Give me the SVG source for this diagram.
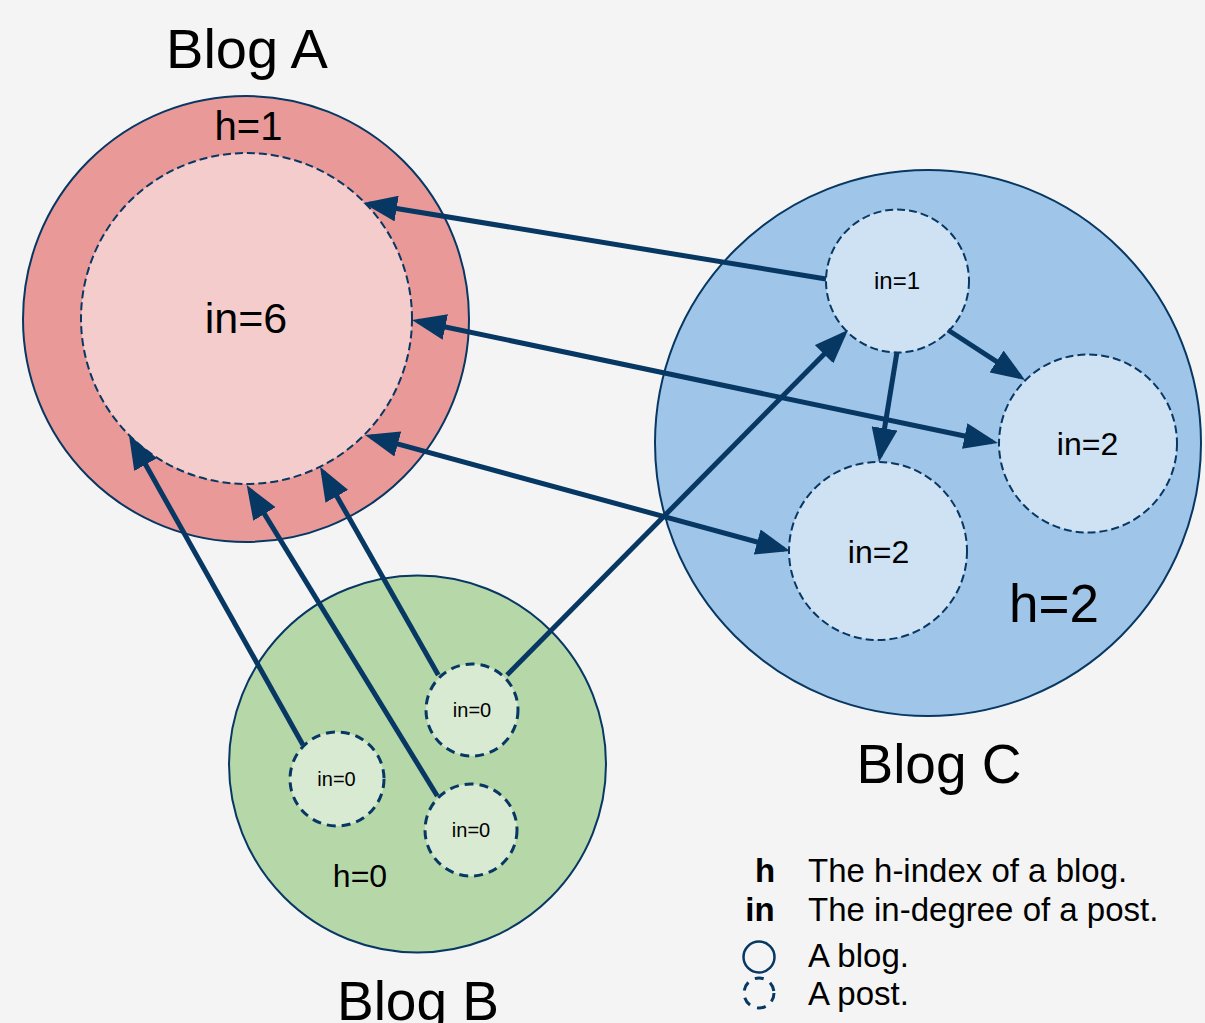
<svg xmlns="http://www.w3.org/2000/svg" width="1205" height="1023" viewBox="0 0 1205 1023">
<defs>
<style>
text{font-family:"Liberation Sans",Arial,sans-serif;fill:#000;text-anchor:middle}
.blog{stroke:#073763;stroke-width:2}
.post{stroke:#073763;stroke-width:2;stroke-dasharray:8 4}
.postb{stroke:#073763;stroke-width:3;stroke-dasharray:9 6}
.edge{fill:none;stroke:#073763;stroke-width:5;marker-end:url(#ah)}
.bi{marker-start:url(#ah)}
.leg{text-anchor:start}
</style>
<marker id="ah" markerUnits="userSpaceOnUse" markerWidth="34" markerHeight="26" refX="28" refY="13" orient="auto-start-reverse" viewBox="0 0 34 26">
<path d="M0,0 L34,13 L0,26 z" fill="#073763"/>
</marker>
</defs>
<rect width="1205" height="1023" fill="#f4f4f4"/>

<g id="blogA">
<circle class="blog" cx="246" cy="319" r="223" fill="#ea9999"/>
<circle class="post" cx="246.5" cy="318.5" r="165.5" fill="#f4cccc"/>
<text x="247" y="68" font-size="56">Blog A</text>
<text x="248.5" y="140" font-size="40">h=1</text>
<text x="246" y="333" font-size="43">in=6</text>
</g>

<g id="blogC">
<circle class="blog" cx="928" cy="443" r="273" fill="#9fc5e8"/>
<circle class="post" cx="897.5" cy="281" r="71.5" fill="#cfe2f3"/>
<circle class="post" cx="1088" cy="443.5" r="89" fill="#cfe2f3"/>
<circle class="post" cx="878" cy="551" r="89" fill="#cfe2f3"/>
<text x="897" y="289" font-size="24">in=1</text>
<text x="1087.5" y="455" font-size="32">in=2</text>
<text x="878.5" y="563" font-size="32">in=2</text>
<text x="1054" y="622" font-size="53">h=2</text>
<text x="939" y="783" font-size="55">Blog C</text>
</g>

<g id="blogB">
<circle class="blog" cx="417.5" cy="764" r="188.5" fill="#b6d7a8"/>
<circle class="postb" cx="337" cy="779" r="47" fill="#d9ead3"/>
<circle class="postb" cx="472" cy="710" r="46" fill="#d9ead3"/>
<circle class="postb" cx="471" cy="830" r="46" fill="#d9ead3"/>
<text x="336.5" y="786" font-size="20">in=0</text>
<text x="472" y="717" font-size="20">in=0</text>
<text x="471" y="837" font-size="20">in=0</text>
<text x="360" y="887" font-size="32">h=0</text>
<text x="418" y="1020" font-size="55">Blog B</text>
</g>

<g id="connectors">
<path class="edge" d="M826,279 L369,204"/>
<path class="edge bi" d="M417.9,321.2 L992.1,441.8"/>
<path class="edge bi" d="M370.8,436.6 L784.2,549.4"/>
<path class="edge" d="M897,352 L880,456.1"/>
<path class="edge" d="M948,330 L1020,376.7"/>
<path class="edge" d="M507,675 L843.8,334.3"/>
<path class="edge" d="M303,745 L131.9,440.2"/>
<path class="edge" d="M437.3,796 L249.8,490.1"/>
<path class="edge" d="M438.3,675 L323,471.9"/>
</g>

<g id="legend">
<text x="765" y="882" font-size="33" font-weight="bold">h</text>
<text class="leg" x="808" y="882" font-size="33">The h-index of a blog.</text>
<text x="760" y="921" font-size="33" font-weight="bold">in</text>
<text class="leg" x="808" y="921" font-size="33">The in-degree of a post.</text>
<circle cx="759" cy="957" r="15.5" fill="none" stroke="#073763" stroke-width="2.5"/>
<text class="leg" x="808" y="967" font-size="33">A blog.</text>
<circle cx="759" cy="993" r="15" fill="none" stroke="#073763" stroke-width="3" stroke-dasharray="9 7.5"/>
<text class="leg" x="808" y="1005" font-size="33">A post.</text>
</g>
</svg>
